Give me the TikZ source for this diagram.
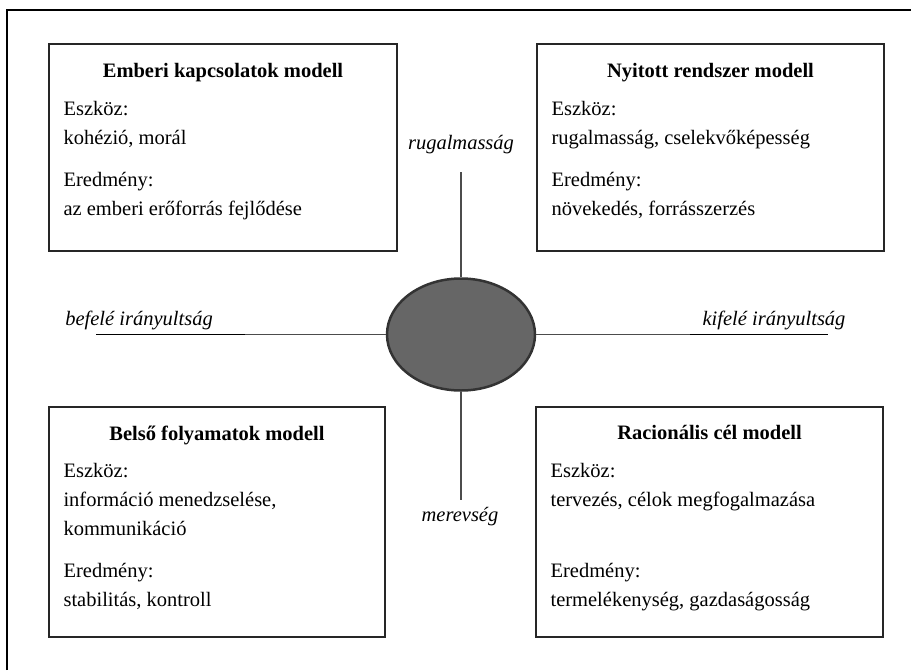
\documentclass[tikz,border=0pt]{standalone}
\usepackage{fontspec}
\setmainfont{Liberation Serif}
\usetikzlibrary{positioning,shapes.geometric}

\begin{document}
\begin{tikzpicture}[x=1pt,y=-1pt,font=\fontsize{20.5}{29}\selectfont]
\tikzstyle{model} = [rectangle, draw=black!85, line width=1.3pt, inner sep=0pt]
\tikzstyle{title} = [font=\fontsize{20.5}{29}\selectfont\bfseries, inner sep=0pt]
\tikzstyle{body} = [align=left, inner sep=0pt]
\tikzstyle{axis} = [draw=black!70, line width=1.3pt]
\tikzstyle{pole} = [font=\fontsize{20.5}{29}\selectfont\itshape, inner sep=0pt]
\tikzstyle{core} = [ellipse, draw=black!80, fill=black!60, line width=2.5pt,
    minimum width=148pt, minimum height=112pt]

\useasboundingbox (0,0) rectangle (911,670);
\draw[line width=1.3pt] (7,670) -- (7,10) -- (911,10);

% the four models
\node[model, minimum width=348pt, minimum height=207pt] (emberi) at (223,147.5) {};
\node[model, minimum width=347pt, minimum height=207pt] (nyitott) at (710.5,147.5) {};
\node[model, minimum width=336pt, minimum height=230pt] (belso) at (217,522) {};
\node[model, minimum width=347pt, minimum height=230pt] (racio) at (709.5,522) {};

\node[title, below=20pt of emberi.north] (emberiT) {Emberi kapcsolatok modell};
\node[title, below=20pt of nyitott.north] (nyitottT) {Nyitott rendszer modell};
\node[title, below=19pt of belso.north] (belsoT) {Belső folyamatok modell};
\node[title, below=19pt of racio.north] (racioT) {Racionális cél modell};

\node[body, below right=58pt and 15pt of emberi.north west] (emberiB)
    {Eszköz:\\kohézió, morál\\[13pt]Eredmény:\\az emberi erőforrás fejlődése};
\node[body, below right=58pt and 15pt of nyitott.north west] (nyitottB)
    {Eszköz:\\rugalmasság, cselekvőképesség\\[13pt]Eredmény:\\növekedés, forrásszerzés};
\node[body, below right=57pt and 15pt of belso.north west] (belsoB)
    {Eszköz:\\információ menedzselése,\\kommunikáció\\[13pt]Eredmény:\\stabilitás, kontroll};
\node[body, below right=57pt and 15pt of racio.north west] (racioB)
    {Eszköz:\\tervezés, célok megfogalmazása\\[42pt]Eredmény:\\termelékenység, gazdaságosság};

% centre and axes
\node[core] (core) at (461,334.5) {};

\coordinate (flexT) at (461,172);
\coordinate (rigidB) at (461,500);
\coordinate (inL) at (96,334.5);
\coordinate (inM) at (245,334.5);
\coordinate (outR) at (828,334.5);
\coordinate (outM) at (690,334.5);

\draw[axis] (flexT) -- (core.north);
\draw[axis] (core.south) -- (rigidB);
\draw[axis] (inL) -- (core.west);
\draw[axis] (core.east) -- (outR);
\draw[line width=1.5pt] (inL) -- (inM);
\draw[line width=1.5pt] (outM) -- (outR);

\node[pole] (flex) at (461,145) {rugalmasság};
\node[pole] (rigid) at (460,517) {merevség};
\node[pole] (inward) at (139,320) {befelé irányultság};
\node[pole] (outward) at (774,320) {kifelé irányultság};

\end{tikzpicture}
\end{document}
